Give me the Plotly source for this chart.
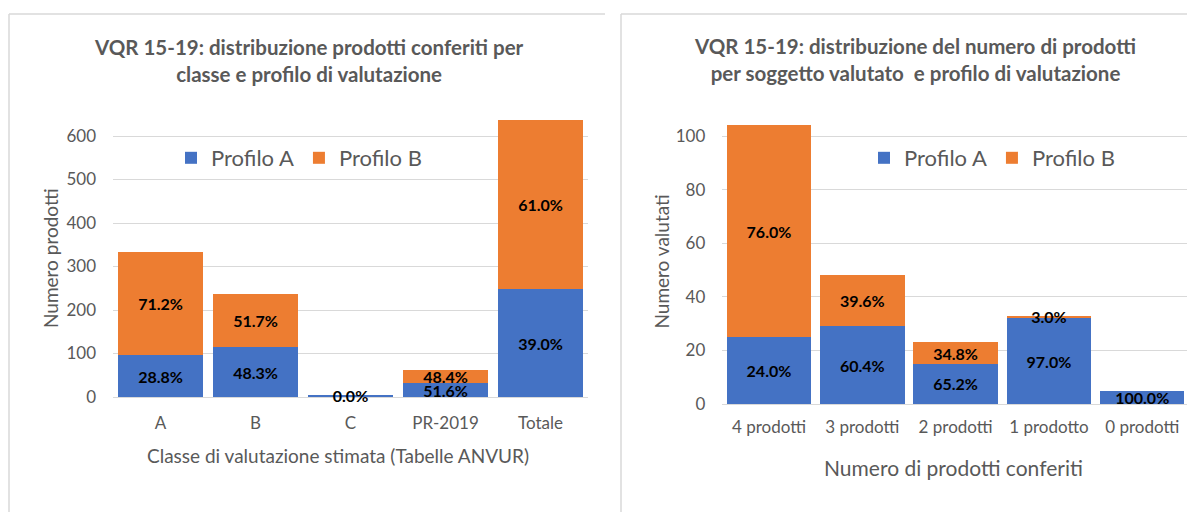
import plotly.graph_objects as go

# ---- data: left chart ----
classes = ["A", "B", "C", "PR-2019", "Totale"]
left_profilo_a = [96, 114, 5, 32, 248]
left_profilo_b = [237, 122, 0, 30, 389]
left_labels_a = ["28.8%", "48.3%", "0.0%", "51.6%", "39.0%"]
left_labels_b = ["71.2%", "51.7%", "", "48.4%", "61.0%"]
left_yticks = [0, 100, 200, 300, 400, 500, 600]

# ---- data: right chart ----
n_prodotti = ["4 prodotti", "3 prodotti", "2 prodotti", "1 prodotto", "0 prodotti"]
right_profilo_a = [25, 29, 15, 32, 5]
right_profilo_b = [79, 19, 8, 1, 0]
right_labels_a = ["24.0%", "60.4%", "65.2%", "97.0%", "100.0%"]
right_labels_b = ["76.0%", "39.6%", "34.8%", "3.0%", ""]
right_yticks = [0, 20, 40, 60, 80, 100]

BLUE = "#4472C4"
ORANGE = "#ED7D31"
GRID = "#D9D9D9"
GRAY = "#595959"
FONT = "Lato"

W, H = 1187, 512


def px(x):
    return x / W


def py(y):
    return 1 - y / H


fig = go.Figure()


def bar(x, y, text, name, color, xa, ya, legend):
    return go.Bar(
        x=x, y=y, text=text, name=name, marker=dict(color=color, line=dict(width=0)),
        xaxis=xa, yaxis=ya, legend=legend, showlegend=True,
        textposition="inside", insidetextanchor="middle", textangle=0,
        constraintext="none", cliponaxis=False,
        textfont=dict(family=FONT, size=16, color="black", weight="bold"),
        hoverinfo="skip",
    )


fig.add_trace(bar(classes, left_profilo_a, left_labels_a, "Profilo A", BLUE, "x", "y", "legend"))
fig.add_trace(bar(classes, left_profilo_b, left_labels_b, "Profilo B", ORANGE, "x", "y", "legend"))
fig.add_trace(bar(n_prodotti, right_profilo_a, right_labels_a, "Profilo A", BLUE, "x2", "y2", "legend2"))
fig.add_trace(bar(n_prodotti, right_profilo_b, right_labels_b, "Profilo B", ORANGE, "x2", "y2", "legend2"))

axis_font = dict(family=FONT, size=17, color=GRAY)

left_top, left_bot = 119, 397
left_scale = (397 - 136) / 600.0
right_top, right_bot = 119, 404
right_scale = (404 - 136) / 100.0
r_left, r_right_full = 722.3, 1188.9
r_step = (r_right_full - r_left) / 5

fig.update_layout(
    width=W, height=H,
    margin=dict(l=0, r=0, t=0, b=0, autoexpand=False),
    paper_bgcolor="white", plot_bgcolor="white",
    barmode="stack", bargap=0.095,
    font=dict(family=FONT, color=GRAY),
    xaxis=dict(domain=[px(113), px(588)], range=[-0.5, 4.5], showgrid=False,
               showline=False, ticks="", tickfont=axis_font, ticklabelstandoff=14,
               automargin=False),
    yaxis=dict(domain=[py(left_bot), py(left_top)],
               range=[0, (left_bot - left_top) / left_scale],
               tickvals=left_yticks, showgrid=True, gridcolor=GRID, gridwidth=1,
               zeroline=True, zerolinecolor=GRID, zerolinewidth=1, automargin=False,
               tickfont=axis_font, ticklabelstandoff=16, showline=False),
    xaxis2=dict(domain=[px(r_left), 1.0], range=[-0.5, 4.5 - (r_right_full - W) / r_step],
                showgrid=False, showline=False, ticks="", tickfont=axis_font,
                ticklabelstandoff=11, anchor="y2", automargin=False),
    yaxis2=dict(domain=[py(right_bot), py(right_top)],
                range=[0, (right_bot - right_top) / right_scale],
                tickvals=right_yticks, showgrid=True, gridcolor=GRID, gridwidth=1,
                zeroline=True, zerolinecolor=GRID, zerolinewidth=1, automargin=False,
                tickfont=axis_font, ticklabelstandoff=16, showline=False, anchor="x2"),
    legend=dict(orientation="h", x=px(171), y=py(158), xanchor="left", yanchor="middle",
                font=dict(family=FONT, size=22, color=GRAY), bgcolor="rgba(0,0,0,0)",
                traceorder="normal"),
    legend2=dict(orientation="h", x=px(864), y=py(158), xanchor="left", yanchor="middle",
                 font=dict(family=FONT, size=22, color=GRAY), bgcolor="rgba(0,0,0,0)",
                 traceorder="normal"),
)

line = dict(color=GRID, width=1.5)
shapes = [
    dict(type="line", xref="paper", yref="paper", x0=px(9), x1=px(9), y0=py(14), y1=0, line=line),
    dict(type="line", xref="paper", yref="paper", x0=px(9), x1=px(605), y0=py(14), y1=py(14), line=line),
    dict(type="line", xref="paper", yref="paper", x0=px(621), x1=px(621), y0=py(14), y1=0, line=line),
    dict(type="line", xref="paper", yref="paper", x0=px(621), x1=1, y0=py(14), y1=py(14), line=line),
]
fig.update_layout(shapes=shapes)

title_font = dict(family=FONT, size=20.5, color=GRAY, weight="bold")
ann = [
    dict(text="VQR 15-19: distribuzione prodotti conferiti per<br>classe e profilo di valutazione",
         x=px(309), y=py(60), font=title_font),
    dict(text="VQR 15-19: distribuzione del numero di prodotti<br>per soggetto valutato  e profilo di valutazione",
         x=px(915), y=py(59), font=title_font),
    dict(text="Classe di valutazione stimata (Tabelle ANVUR)", x=px(338), y=py(455),
         font=dict(family=FONT, size=19, color=GRAY)),
    dict(text="Numero di prodotti conferiti", x=px(953), y=py(467),
         font=dict(family=FONT, size=21, color=GRAY)),
    dict(text="Numero prodotti", x=px(50), y=py((left_top + left_bot) / 2), textangle=-90,
         font=dict(family=FONT, size=19, color=GRAY)),
    dict(text="Numero valutati", x=px(661), y=py((right_top + right_bot) / 2), textangle=-90,
         font=dict(family=FONT, size=19, color=GRAY)),
]
for a in ann:
    a.update(xref="paper", yref="paper", showarrow=False, xanchor="center", yanchor="middle")
fig.update_layout(annotations=ann)

fig.write_html(
    "out.html",
    post_script="document.body.style.margin='0';",
    config={"displayModeBar": False},
)
